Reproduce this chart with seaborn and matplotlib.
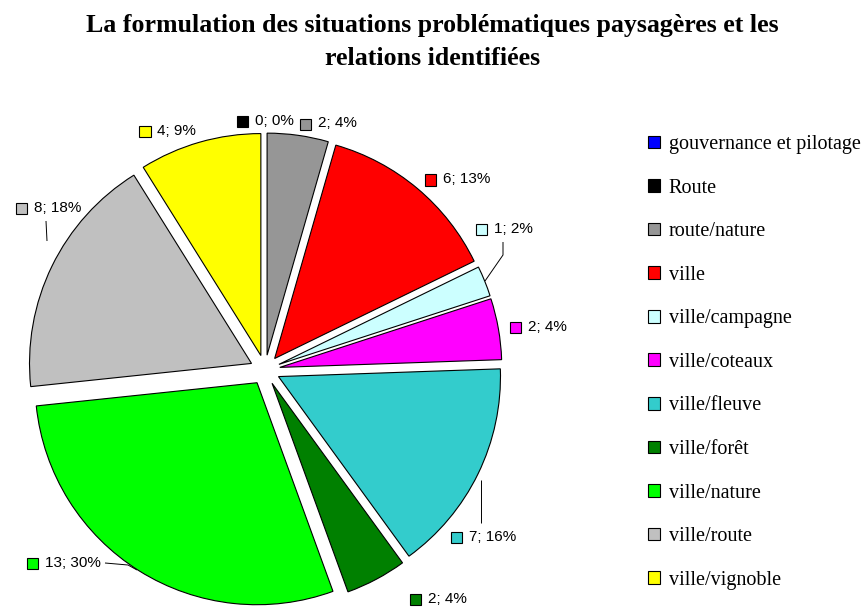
import numpy as np
import matplotlib
matplotlib.use("Agg")
import matplotlib.pyplot as plt
import seaborn as sns
from matplotlib.patches import Rectangle, Patch
from matplotlib.offsetbox import AnnotationBbox, HPacker, DrawingArea, TextArea

sns.set_style("white")
plt.rcParams["text.color"] = "black"

# --- data -----------------------------------------------------------------
categories = ["gouvernance et pilotage", "Route", "route/nature", "ville",
              "ville/campagne", "ville/coteaux", "ville/fleuve", "ville/forêt",
              "ville/nature", "ville/route", "ville/vignoble"]
counts = [0, 0, 2, 6, 1, 2, 7, 2, 13, 8, 4]
percent_labels = [0, 0, 4, 13, 2, 4, 16, 4, 30, 18, 9]
colors = ["#0000FF", "#000000", "#969696", "#FF0000", "#CCFFFF", "#FF00FF",
          "#33CCCC", "#008000", "#00FF00", "#C0C0C0", "#FFFF00"]
title = ("La formulation des situations problématiques paysagères et les\n"
         "relations identifiées")

# --- figure in pixel units ---------------------------------------------------
W, H = 865, 607
fig = plt.figure(figsize=(W / 100, H / 100), dpi=100)
ax = fig.add_axes([0, 0, 1, 1])

cx, cy, R, EXPL = 265, H - 370, 222, 15
wedges, _ = ax.pie(counts, colors=colors, startangle=90, counterclock=False,
                   explode=[EXPL] * len(counts), radius=R, center=(cx, cy),
                   wedgeprops=dict(edgecolor="black", linewidth=0.8),
                   frame=True)
for w, v in zip(wedges, counts):
    if v == 0:
        w.set_visible(False)

ax.set_xlim(0, W)
ax.set_ylim(0, H)
ax.set_aspect("auto")
ax.axis("off")

# --- data labels -------------------------------------------------------------
label_font = dict(family="Liberation Sans", size=11, color="black")

# labels that sit away from their slice, joined by a leader line (top-origin px)
moved = {
    "ville/campagne": ((476, 229), "left", [(485, 281), (503, 255), (503, 242)]),
    "ville/fleuve": ((451, 537), "left", [(481, 480), (481, 523)]),
    "ville/forêt": ((410, 599), "left", None),
    "ville/nature": ((101, 563), "right", [(105, 563), (128, 565), (137, 570)]),
    "ville/route": ((81, 208), "right", [(46, 221), (47, 241)]),
}

total = sum(counts)
mids = []
cum = 0.0
for v in counts:
    mids.append((cum + v / 2) / total * 2 * np.pi)  # clockwise from 12 o'clock
    cum += v
# when several labels share a spot, only the last one drawn is visible
last_at = {round(m, 6): i for i, m in enumerate(mids)}

for i, (cat, v, p, col) in enumerate(zip(categories, counts, percent_labels, colors)):
    mid = mids[i]
    if last_at[round(mid, 6)] != i:
        continue
    if cat in moved:
        (lx, ly), side, leader = moved[cat]
        ly = H - ly
        if leader:
            xs = [q[0] for q in leader]
            ys = [H - q[1] for q in leader]
            ax.plot(xs, ys, color="black", lw=0.7, solid_capstyle="butt")
    else:
        rl = R + EXPL + 12
        lx = cx + rl * np.sin(mid)
        ly = cy + rl * np.cos(mid)
        s = np.sin(mid)
        side = "left" if s > 0.1 else ("right" if s < -0.1 else "center")
    da = DrawingArea(9, 9, 0, 0)
    da.add_artist(Rectangle((0, 0), 8, 8, facecolor=col, edgecolor="black", lw=0.8))
    ta = TextArea(f"{v}; {p}%", textprops=label_font)
    box = HPacker(children=[da, ta], align="center", pad=0, sep=4)
    align = {"left": (0, 0.5), "right": (1, 0.5), "center": (0.5, 0.5)}[side]
    ab = AnnotationBbox(box, (lx, ly), xycoords="data", box_alignment=align,
                        frameon=False, pad=0, annotation_clip=False)
    ax.add_artist(ab)

# --- title -----------------------------------------------------------------
fig.text(0.5, 1 - 42 / H, title, ha="center", va="center", ma="center",
         fontfamily="Liberation Serif", fontweight="bold", fontsize=18.6,
         color="black", linespacing=1.58)

# --- legend ----------------------------------------------------------------
handles = [Patch(facecolor=c, edgecolor="black", linewidth=0.8) for c in colors]
leg = fig.legend(handles, categories, loc="upper left",
                 bbox_to_anchor=(640 / W, 1 - 127 / H),
                 frameon=False, handlelength=0.6, handleheight=0.6,
                 handletextpad=0.42, labelspacing=1.22, borderaxespad=0,
                 labelcolor="black",
                 prop=dict(family="Liberation Serif", size=14.5))

fig.savefig("out.png", dpi=100)
